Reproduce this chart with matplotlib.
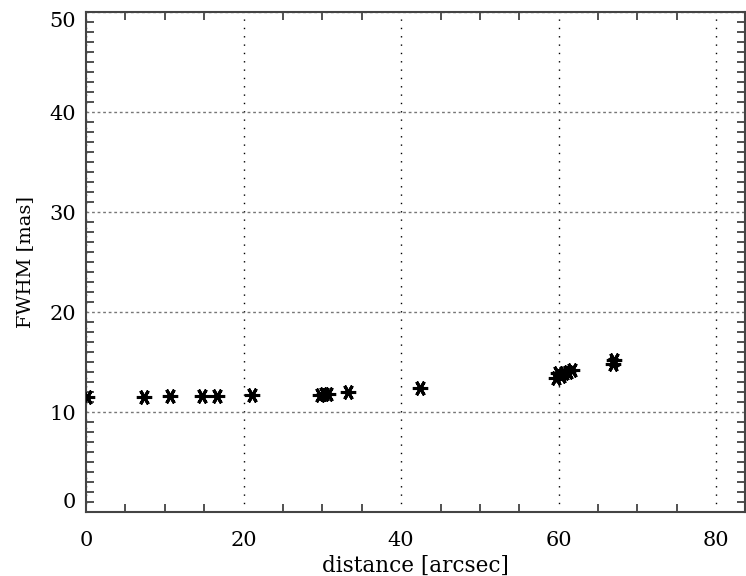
import matplotlib
matplotlib.use('Agg')
import matplotlib.pyplot as plt
from matplotlib.ticker import MultipleLocator

# distance [arcsec] and FWHM [mas]
distance = [0.1, 7.4, 10.6, 14.7, 16.6, 21.1,
            29.7, 30.2, 30.7, 33.3, 42.4,
            59.6, 59.9, 60.3, 60.7, 61.2, 61.7,
            66.9, 67.0]
fwhm = [11.5, 11.5, 11.6, 11.6, 11.6, 11.7,
        11.7, 11.8, 11.8, 12.0, 12.4,
        13.4, 13.9, 13.6, 13.9, 14.0, 14.2,
        14.8, 15.2]

x_ticks = [0, 20, 40, 60, 80]
y_ticks = [0, 10, 20, 30, 40, 50]

plt.rcParams['font.family'] = 'DejaVu Serif'

fig = plt.figure(figsize=(7.46, 5.76), dpi=100)
ax = fig.add_axes([86/746, 1-512/576, (745-86)/746, 500/576])

ax.plot(distance, fwhm, ls='none', marker=(6, 2, 90), ms=11, mew=2.2,
        color='black', zorder=3)

ax.set_xlim(0, 83.65)
ax.set_ylim(0, 50)

ax.set_xticks(x_ticks)
ax.set_yticks(y_ticks)
ax.xaxis.set_minor_locator(MultipleLocator(5))
ax.yaxis.set_minor_locator(MultipleLocator(1))
ax.tick_params(which='major', length=0, labelsize=15, pad=14)
ax.tick_params(axis='y', which='major', pad=7)
ax.tick_params(which='minor', direction='in', length=6, width=1.2,
               color='#333333', top=True, right=True)

ylabels = ax.get_yticklabels()
ylabels[0].set_va('bottom')
ylabels[-1].set_va('top')

ax.yaxis.grid(True, ls=(0, (2, 2)), color='#777777', lw=1)
ax.xaxis.grid(True, ls=(0, (1, 5)), color='black', lw=1)

for sp in ax.spines.values():
    sp.set_linewidth(1.5)
    sp.set_color('#444444')

ax.set_xlabel('distance [arcsec]', fontsize=15.5, labelpad=3)
ax.set_ylabel('FWHM [mas]', fontsize=14, labelpad=11)

fig.savefig('out.png', dpi=100)
